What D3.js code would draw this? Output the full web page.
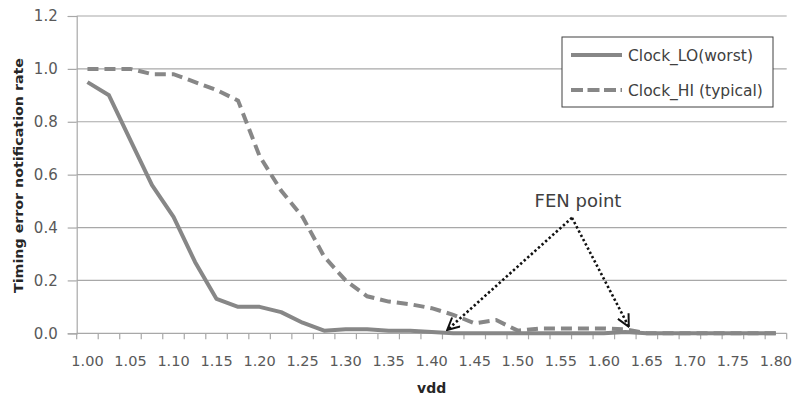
<!DOCTYPE html>
<html>
<head>
<meta charset="utf-8">
<script src="https://cdn.jsdelivr.net/npm/d3@7"></script>
<style>
  body { margin: 0; background: #fff; }
  svg { display: block; font-family: "DejaVu Sans", Verdana, sans-serif; }
</style>
</head>
<body>
<svg id="chart" width="795" height="398"></svg>
<script>
// categories on the x axis (vdd)
const vdd = [1.000, 1.025, 1.050, 1.075, 1.100, 1.125, 1.150, 1.175, 1.200, 1.225, 1.250,
             1.275, 1.300, 1.325, 1.350, 1.375, 1.400, 1.425, 1.450, 1.475, 1.500, 1.525,
             1.550, 1.575, 1.600, 1.625, 1.650, 1.675, 1.700, 1.725, 1.750, 1.775, 1.800];

const clockLO = [0.95, 0.90, 0.73, 0.56, 0.44, 0.27, 0.13, 0.10, 0.10, 0.08, 0.04,
                 0.01, 0.015, 0.015, 0.01, 0.01, 0.005, 0, 0, 0, 0, 0,
                 0, 0, 0, 0.005, 0, 0, 0, 0, 0, 0, 0];

const clockHI = [1.00, 1.00, 1.00, 0.98, 0.98, 0.95, 0.92, 0.88, 0.67, 0.54, 0.44,
                 0.29, 0.20, 0.14, 0.12, 0.11, 0.095, 0.07, 0.038, 0.05, 0.01, 0.018,
                 0.018, 0.018, 0.018, 0.015, 0, 0, 0, 0, 0, 0, 0];

const yTicks = [0, 0.2, 0.4, 0.6, 0.8, 1.0, 1.2];

const seriesNames = ['Clock_LO(worst)', 'Clock_HI (typical)'];

// FEN point annotation: [vdd, rate] for label apex and the two arrow tips
const fenApex = [1.563, 0.437];
const fenTips = [[1.418, 0.0125], [1.629, 0.025]];

const svg = d3.select('#chart');
const plotLeft = 76.7, plotRight = 786.7, plotTop = 16, plotBottom = 333.3;
const gridColor = '#a8a8a8';
const lineColor = '#878787';

svg.append('rect').attr('width', 795).attr('height', 398).attr('fill', '#fff');

const x = d3.scaleBand().domain(vdd).range([plotLeft, plotRight]).padding(0);
const bw = x.bandwidth();
const xc = d => x(d) + bw / 2;
const xLin = d3.scaleLinear().domain([vdd[0], vdd[vdd.length - 1]])
  .range([xc(vdd[0]), xc(vdd[vdd.length - 1])]);
const y = d3.scaleLinear().domain([0, 1.2]).range([plotBottom, plotTop]);

// horizontal gridlines
svg.append('g')
  .selectAll('line')
  .data(yTicks.filter(d => d > 0))
  .enter().append('line')
  .attr('x1', plotLeft).attr('x2', plotRight)
  .attr('y1', d => y(d)).attr('y2', d => y(d))
  .attr('stroke', gridColor).attr('stroke-width', 1.2);

// y axis
const yAxis = svg.append('g')
  .attr('transform', `translate(${plotLeft},0)`)
  .call(d3.axisLeft(y).tickValues(yTicks).tickFormat(d3.format('.1f')).tickSize(9).tickPadding(10));
yAxis.select('.domain').attr('stroke', gridColor).attr('stroke-width', 1.2);
yAxis.selectAll('.tick line').attr('stroke', gridColor).attr('stroke-width', 1.2);
yAxis.selectAll('.tick text').attr('fill', '#595959').style('font-size', '15px')
  .style('font-family', '"DejaVu Sans", Verdana, sans-serif');

// x axis: labels every other category, tick marks at category boundaries
const xAxis = svg.append('g')
  .attr('transform', `translate(0,${plotBottom})`)
  .call(d3.axisBottom(x).tickValues(vdd.filter((d, i) => i % 2 === 0))
    .tickFormat(d3.format('.2f')).tickSize(0).tickPadding(22));
xAxis.select('.domain').remove();
xAxis.selectAll('.tick text').attr('fill', '#595959').style('font-size', '14.5px')
  .style('font-family', '"DejaVu Sans", Verdana, sans-serif');

const bounds = vdd.map(d => x(d)).concat([plotRight]);
svg.append('g')
  .selectAll('line')
  .data(bounds)
  .enter().append('line')
  .attr('x1', d => d).attr('x2', d => d)
  .attr('y1', plotBottom).attr('y2', plotBottom + 6)
  .attr('stroke', gridColor).attr('stroke-width', 1.2);
svg.append('line')
  .attr('x1', plotLeft).attr('x2', plotRight)
  .attr('y1', plotBottom).attr('y2', plotBottom)
  .attr('stroke', gridColor).attr('stroke-width', 1.2);

// series lines
const line = d3.line()
  .x((d, i) => xc(vdd[i]))
  .y(d => y(d));

svg.append('path')
  .datum(clockHI)
  .attr('d', line)
  .attr('fill', 'none')
  .attr('stroke', lineColor)
  .attr('stroke-width', 4)
  .attr('stroke-dasharray', '11,6');

svg.append('path')
  .datum(clockLO)
  .attr('d', line)
  .attr('fill', 'none')
  .attr('stroke', lineColor)
  .attr('stroke-width', 4)
  .attr('stroke-linejoin', 'round');

// axis titles
svg.append('text')
  .attr('transform', 'translate(23,175.5) rotate(-90)')
  .attr('text-anchor', 'middle')
  .attr('textLength', 235)
  .attr('lengthAdjust', 'spacingAndGlyphs')
  .attr('fill', '#262626')
  .style('font-size', '13px')
  .style('font-weight', 'bold')
  .text('Timing error notification rate');

svg.append('text')
  .attr('x', (plotLeft + plotRight) / 2)
  .attr('y', 393)
  .attr('text-anchor', 'middle')
  .attr('fill', '#262626')
  .style('font-size', '14px')
  .style('font-weight', 'bold')
  .text('vdd');

// legend
const legend = svg.append('g');
legend.append('rect')
  .attr('x', 562).attr('y', 37).attr('width', 211).attr('height', 70)
  .attr('fill', '#fff').attr('stroke', '#404040').attr('stroke-width', 1);

const legendItems = legend.selectAll('g.item')
  .data(seriesNames)
  .enter().append('g')
  .attr('class', 'item')
  .attr('transform', (d, i) => `translate(0,${55 + i * 35})`);

legendItems.append('line')
  .attr('x1', 571).attr('x2', 622)
  .attr('stroke', lineColor).attr('stroke-width', 4)
  .attr('stroke-dasharray', (d, i) => i === 1 ? '12,4.5' : null);

legendItems.append('text')
  .attr('x', 628).attr('dy', '0.36em')
  .attr('fill', '#404040')
  .style('font-size', '15.5px')
  .text(d => d);

// FEN point annotation
const defs = svg.append('defs');
defs.append('marker')
  .attr('id', 'openArrow')
  .attr('viewBox', '0 0 14 14')
  .attr('refX', 13).attr('refY', 7)
  .attr('markerWidth', 14).attr('markerHeight', 14)
  .attr('markerUnits', 'userSpaceOnUse')
  .attr('orient', 'auto')
  .append('path')
  .attr('d', 'M1,1 L13,7 L1,13')
  .attr('fill', 'none')
  .attr('stroke', '#111')
  .attr('stroke-width', 2);

svg.append('g')
  .selectAll('line')
  .data(fenTips)
  .enter().append('line')
  .attr('x1', xLin(fenApex[0])).attr('y1', y(fenApex[1]))
  .attr('x2', d => xLin(d[0])).attr('y2', d => y(d[1]))
  .attr('stroke', '#111')
  .attr('stroke-width', 2.6)
  .attr('stroke-dasharray', '2.4,2.4')
  .attr('marker-end', 'url(#openArrow)');

svg.append('text')
  .attr('x', xLin(fenApex[0]) + 6)
  .attr('y', 206.5)
  .attr('text-anchor', 'middle')
  .attr('fill', '#404040')
  .style('font-size', '18px')
  .text('FEN point');
</script>
</body>
</html>
